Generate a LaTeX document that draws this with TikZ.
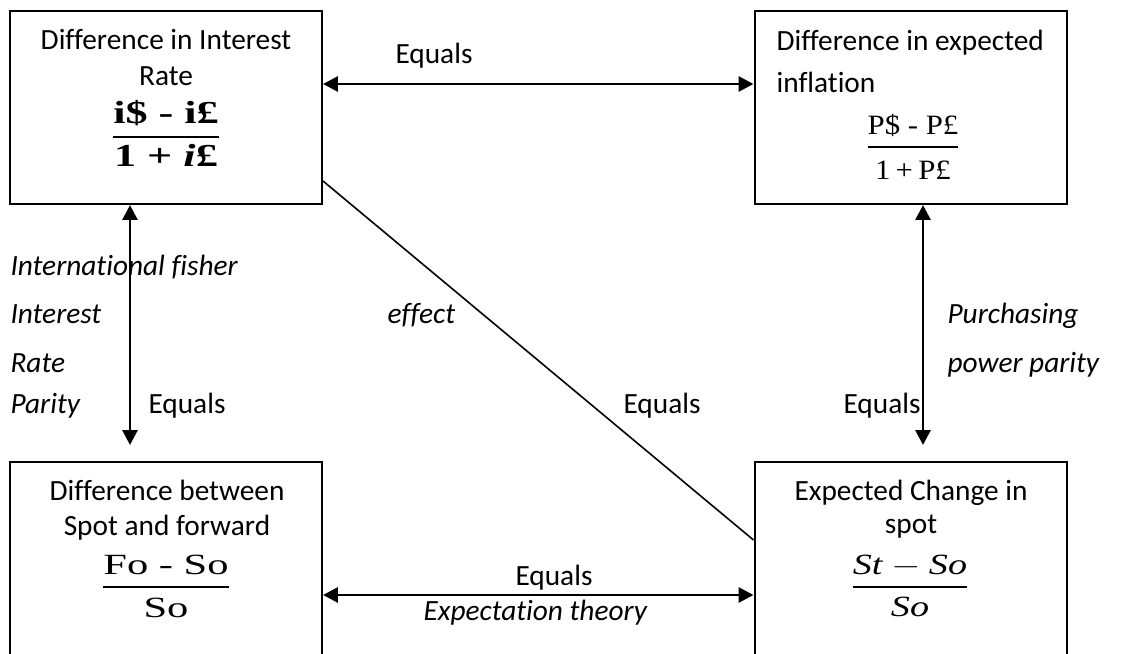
\documentclass[tikz,border=0pt]{standalone}
\usepackage{amsmath}
\usepackage{fontspec}
\setmainfont{Carlito}[RawFeature={-liga;-calt;-clig;-dlig}]
\newfontfamily\eqfont{Liberation Serif}
\usetikzlibrary{arrows.meta}

\newcommand{\wideratio}[4]{\scalebox{#1}[1]{$\genfrac{}{}{0.7pt}{0}{#2}{\rule{0pt}{#3}#4}$}}

\begin{document}
\begin{tikzpicture}[x=0.375pt, y=-0.375pt, font=\fontsize{11}{13.6}\selectfont,
  panel/.style={draw=black, line width=0.75pt, minimum width=117pt, inner sep=0pt},
  link/.style={line width=1.1pt, {Triangle[length=5.6pt,width=5.6pt]}-{Triangle[length=5.6pt,width=5.6pt]}},
  title/.style={anchor=base, inner sep=0pt},
  word/.style={anchor=base west, inner sep=0pt},
  note/.style={anchor=base west, inner sep=0pt, font=\fontsize{11}{13.6}\selectfont\itshape},
  ratio/.style={anchor=base, inner sep=0pt}]
\path[use as bounding box, clip] (0,0) rectangle (1132,653);

\node[panel, minimum height=72.4pt] (rate) at (166,107.5) {};
\node[panel, minimum height=72.4pt] (infl) at (910.5,107.5) {};
\node[panel, minimum height=93.75pt] (fwd) at (166,587) {};
\node[panel, minimum height=93.75pt] (spot) at (910.5,587) {};

\node[title] (rateA) at (166,49) {Difference in Interest};
\node[title] (rateB) at (166,85) {Rate};
\node[ratio, font=\fontsize{12}{14}\selectfont\eqfont\bfseries] (rateq) at (166,145)
  {\wideratio{1.38}{\text{i\$ - i£}}{0pt}{\text{1 + \textit{i}£}}};

\node[word] (inflA) at (776,50) {Difference in expected};
\node[word] (inflB) at (776,92) {inflation};
\node[ratio, font=\fontsize{10.5}{12}\selectfont\eqfont] (inflq) at (913,154)
  {\wideratio{1.1}{\text{P\$ - P£}}{10pt}{\text{1\,+\,P£}}};

\node[title] (fwdA) at (167,500) {Difference between};
\node[title] (fwdB) at (167,535) {Spot and forward};
\node[ratio, font=\fontsize{11}{13}\selectfont\eqfont] (fwdq) at (166,594)
  {\wideratio{1.45}{\text{Fo - So}}{9.2pt}{\text{So}}};

\node[title] (spotA) at (911,500) {Expected Change in};
\node[title] (spotB) at (911,533) {spot};
\node[ratio, font=\fontsize{11}{13}\selectfont\eqfont] (spotq) at (910,594)
  {\wideratio{1.3}{\text{\itshape St}-\text{\itshape So}}{8.8pt}{\text{\itshape So}}};

\coordinate (topline) at (0,84);
\coordinate (ifeend) at (130,445);
\coordinate (pppend) at (923,445);
\coordinate (etline) at (0,595);
\coordinate (diagtop) at (0,181);
\coordinate (diagbot) at (0,540);

\draw[link] (rate.east |- topline) -- (infl.west |- topline);
\draw[link] (rate.south -| ifeend) -- (ifeend);
\draw[link] (infl.south -| pppend) -- (pppend);
\draw[link] (fwd.east |- etline) -- (spot.west |- etline);
\draw[line width=0.6pt] (rate.east |- diagtop) -- (spot.west |- diagbot);

\node[word] (eqtop) at (395,63) {Equals};
\node[note] (ifeA) at (10,275) {International fisher};
\node[note] (ifeB) at (10,323) {Interest};
\node[note] (ifeC) at (10,372) {Rate};
\node[note] (ifeD) at (10,413) {Parity};
\node[word] (eqleft) at (148,413) {Equals};
\node[note] (effect) at (387,323) {effect};
\node[word] (eqmid) at (623,413) {Equals};
\node[word] (eqright) at (843,413) {Equals};
\node[note] (pppA) at (947,323) {Purchasing};
\node[note] (pppB) at (947,372) {power parity};
\node[word] (eqbot) at (515,585) {Equals};
\node[note] (extheory) at (423,620) {Expectation theory};
\end{tikzpicture}
\end{document}
